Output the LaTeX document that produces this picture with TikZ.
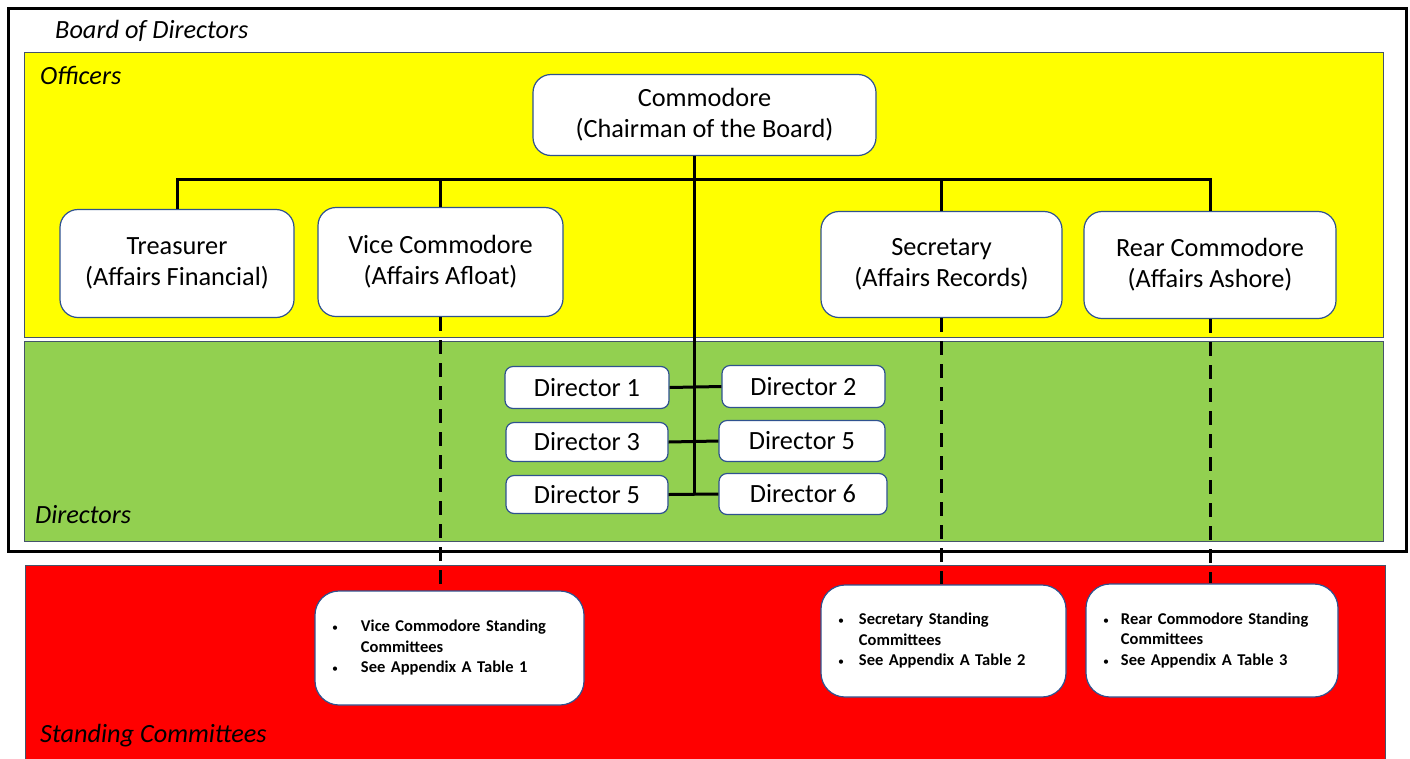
\documentclass[tikz,border=0pt]{standalone}
\usepackage{fontspec}
\setmainfont{Carlito}
\definecolor{ylw}{HTML}{FFFF00}
\definecolor{grn}{HTML}{92D050}
\definecolor{rd}{HTML}{FF0000}
\definecolor{bxline}{HTML}{2F528F}
\definecolor{pnline}{HTML}{44546A}
\newcommand\smbul{{\mdseries\fontsize{12}{12}\selectfont\textbullet}}
\newcommand\cmtext[3]{\begin{tabular}{@{}l@{\hspace{#1}}l@{}}\smbul & #2\\ & Committees\\ \smbul & See Appendix A Table #3\end{tabular}}
\tikzset{
  panel/.style={draw=pnline, line width=1pt},
  paneltitle/.style={anchor=west, inner sep=0pt, font=\fontsize{26.3}{31}\selectfont\itshape},
  offbox/.style={draw=bxline, line width=1.2pt, fill=white, rounded corners=18pt, align=center, inner sep=0pt, font=\fontsize{26.3}{31}\selectfont},
  dirbox/.style={draw=bxline, line width=1.2pt, fill=white, rounded corners=8pt, align=center, inner sep=0pt, font=\fontsize{26.3}{31}\selectfont},
  cmbox/.style={draw=bxline, line width=1.2pt, fill=white, rounded corners=24pt, align=left, inner xsep=17pt, inner ysep=0pt, font=\fontsize{16.5}{20.5}\selectfont\bfseries},
  link/.style={line width=3pt},
  dlink/.style={line width=3pt, dash pattern=on 14pt off 9pt}
}
\begin{document}
\begin{tikzpicture}[x=1pt,y=-1pt]
\useasboundingbox (0,0) rectangle (1410,758);
% panels
\draw[line width=3pt] (8,8) rectangle (1406,551);
\draw[panel, fill=ylw] (24,52) rectangle (1383,337);
\draw[panel, fill=grn] (24,341) rectangle (1383,541);
\draw[panel, fill=rd] (25,565) rectangle (1385,762);
\node[paneltitle] (tbod) at (55,31) {Board of Directors};
\node[paneltitle] (toff) at (40,75) {Officers};
\node[paneltitle] (tdir) at (35,515) {Directors};
\node[paneltitle] (tsc) at (40,736) {Standing Committees};
% officers
\node[offbox, minimum width=343pt, minimum height=81pt] (comm) at (704.5,115) {Commodore\\(Chairman of the Board)};
\node[offbox, minimum width=234pt, minimum height=108pt] (treas) at (177,263.5) {Treasurer\\(Affairs Financial)};
\node[offbox, minimum width=245pt, minimum height=109pt] (vc) at (440.5,262) {Vice Commodore\\(Affairs Afloat)};
\node[offbox, minimum width=241pt, minimum height=106pt] (sec) at (941.5,264.5) {Secretary\\(Affairs Records)};
\node[offbox, minimum width=252pt, minimum height=107pt] (rear) at (1210,265) {Rear Commodore\\(Affairs Ashore)};
% directors
\node[dirbox, minimum width=164pt, minimum height=42pt] (d1) at (587,387.5) {Director 1};
\node[dirbox, minimum width=163pt, minimum height=42pt] (d2) at (803.5,386.5) {Director 2};
\node[dirbox, minimum width=162pt, minimum height=39pt] (d3) at (587,442) {Director 3};
\node[dirbox, minimum width=166pt, minimum height=41pt] (d5r) at (802,441) {Director 5};
\node[dirbox, minimum width=162pt, minimum height=38pt] (d5l) at (587,494.5) {Director 5};
\node[dirbox, minimum width=168pt, minimum height=41pt] (d6) at (803,494) {Director 6};
% committees
\node[cmbox, text width=235pt, minimum height=114pt] (vcc) at (449.5,648) {\cmtext{23pt}{Vice Commodore Standing}{1}};
\node[cmbox, text width=211pt, minimum height=112pt] (secc) at (943.5,641) {\cmtext{15pt}{Secretary Standing}{2}};
\node[cmbox, text width=218pt, minimum height=113pt] (rearc) at (1212,640.5) {\cmtext{12pt}{Rear Commodore Standing}{3}};
% connectors
\coordinate (bus) at (694,179);
\coordinate (trunk) at (694,493);
\draw[link] (treas.north) -- (treas.north |- bus) -- (rear.north |- bus) -- (rear.north);
\draw[link] (vc.north) -- (vc.north |- bus);
\draw[link] (sec.north) -- (sec.north |- bus);
\draw[link] (comm.south -| trunk) -- (trunk);
\draw[link] (d1.east) -- (d2.west);
\draw[link] (d3.east) -- (d5r.west);
\draw[link] (d5l.east) -- (d6.west);
\draw[dlink] (vc.south) -- (vc.south |- vcc.north);
\draw[dlink] (sec.south) -- (sec.south |- secc.north);
\draw[dlink] (rear.south) -- (rear.south |- rearc.north);
\end{tikzpicture}
\end{document}
